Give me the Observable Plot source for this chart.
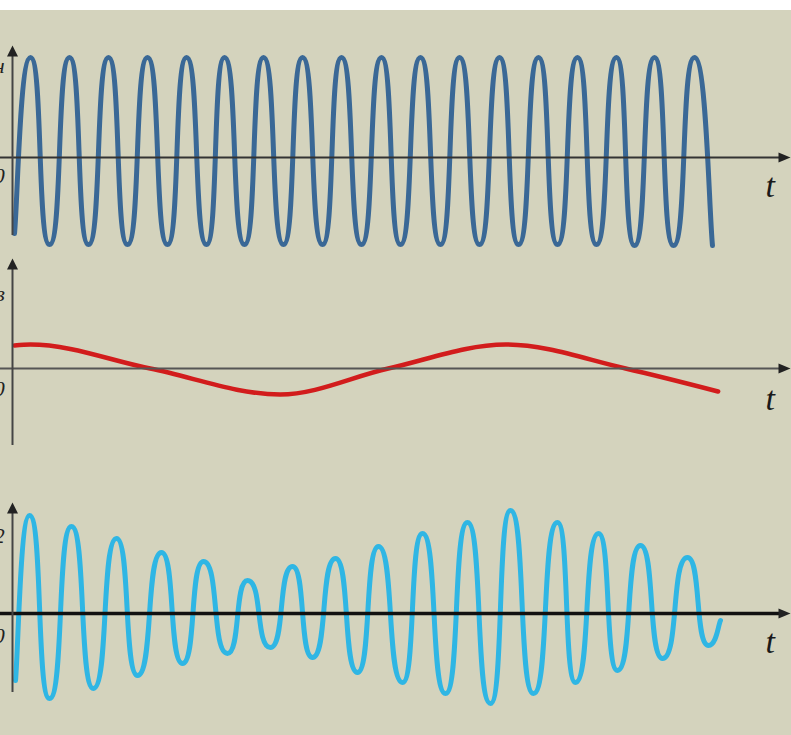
<!DOCTYPE html>
<html>
<head>
<meta charset="utf-8">
<script src="https://cdn.jsdelivr.net/npm/d3@7"></script>
<script src="https://cdn.jsdelivr.net/npm/@observablehq/plot@0.6"></script>
<style>
html, body { margin: 0; padding: 0; background: #ffffff; }
#chart { position: relative; width: 791px; height: 735px; overflow: hidden; background: #d4d3bd; }
#chart .strip { position: absolute; left: 0; top: 0; width: 791px; height: 10px; background: #ffffff; }
#chart svg { position: absolute; left: 0; background: transparent; }
</style>
</head>
<body>
<div id="chart"><div class="strip"></div></div>
<script>
// ---- Data (time t in arbitrary units 0..100, values in relative amplitude) ----
// Carrier (top panel): start, then alternating peaks and troughs
const carrierT = [0.26, 2.31, 4.76, 7.33, 9.77, 12.34, 14.78, 17.35, 19.92, 22.37, 24.94, 27.25, 29.82,
  32.26, 34.83, 37.28, 39.85, 42.29, 44.86, 47.43, 49.87, 52.44, 55.01, 57.46, 60.03, 62.60, 65.04,
  67.61, 70.05, 72.62, 75.06, 77.63, 79.95, 82.52, 84.96, 87.66, 89.97];
const carrierV = [-0.76, 1.00, -0.87, 1.00, -0.87, 1.00, -0.87, 1.00, -0.87, 1.00, -0.87, 1.00, -0.87,
  1.00, -0.87, 1.00, -0.87, 1.00, -0.87, 1.00, -0.87, 1.00, -0.87, 1.00, -0.87, 1.00, -0.87,
  1.00, -0.87, 1.00, -0.87, 1.00, -0.88, 1.00, -0.88, 1.00, -0.88];

// Modulating signal (middle panel)
const modT = [0.26, 2.3, 17.7, 34.4, 48.3, 63.4, 78.8, 90.7];
const modV = [0.23, 0.24, 0.0, -0.26, 0.0, 0.24, 0.0, -0.23];

// Amplitude-modulated signal (bottom panel)
const amT = [0.39, 2.19, 4.76, 7.58, 10.41, 13.37, 16.07, 19.15, 21.85, 24.55, 27.63, 30.21, 33.16,
  35.99, 38.56, 41.52, 44.34, 47.04, 50.13, 52.70, 55.66, 58.48, 61.44, 64.01, 66.97, 70.05, 72.37,
  75.32, 77.76, 80.72, 83.55, 86.76, 89.46, 91.0];
const amV = [-0.67, 0.98, -0.85, 0.87, -0.75, 0.75, -0.62, 0.61, -0.50, 0.52, -0.40, 0.33, -0.34,
  0.47, -0.44, 0.55, -0.59, 0.67, -0.69, 0.80, -0.80, 0.91, -0.90, 1.03, -0.80, 0.91, -0.69,
  0.80, -0.57, 0.68, -0.45, 0.56, -0.32, -0.07];

// Axis extents and labels
const tAxisStart = -1.6, tAxisEnd = 100;
const axisLabel = "t";

// Curve through extrema with flat, rounded tops (horizontal tangents at the peaks/troughs)
const K = 0.66;
function roundedWave(context) {
  let pts = [];
  return {
    areaStart() {}, areaEnd() {},
    lineStart() { pts = []; },
    point(x, y) { pts.push([+x, +y]); },
    lineEnd() {
      const n = pts.length;
      if (!n) return;
      context.moveTo(pts[0][0], pts[0][1]);
      for (let i = 1; i < n; i++) {
        const [x0, y0] = pts[i - 1], [x1, y1] = pts[i];
        const dx = x1 - x0;
        const c1 = i - 1 === 0 ? [x0 + 0.2 * dx, y0 + 0.2 * (y1 - y0)] : [x0 + K * dx, y0];
        const c2 = i === n - 1 ? [x1 - 0.2 * dx, y1 - 0.2 * (y1 - y0)] : [x1 - K * dx, y1];
        context.bezierCurveTo(c1[0], c1[1], c2[0], c2[1], x1, y1);
      }
    }
  };
}

const panels = [
  {T: carrierT, V: carrierV, color: "#3a6896", width: 5, curve: roundedWave,
   vAxis: [-0.78, 1.12], xAxisColor: "#333333", xAxisWidth: 2.2,
   sideLabels: [{text: "н", v: 0.92}, {text: "0", v: -0.18}], tLabelV: -0.29},
  {T: modT, V: modV, color: "#d21c1c", width: 4.5, curve: "monotone-x",
   vAxis: [-0.77, 1.10], xAxisColor: "#555555", xAxisWidth: 2,
   sideLabels: [{text: "в", v: 0.75}, {text: "0", v: -0.20}], tLabelV: -0.31},
  {T: amT, V: amV, color: "#2fb6e4", width: 5, curve: roundedWave,
   vAxis: [-0.79, 1.11], xAxisColor: "#111111", xAxisWidth: 3.5,
   sideLabels: [{text: "2", v: 0.78}, {text: "0", v: -0.22}], tLabelV: -0.29}
];

// Layout (pixels)
const layout = [
  {top: 10, height: 240, zero: 147},
  {top: 250, height: 210, zero: 118},
  {top: 460, height: 275, zero: 153}
];
const pxPerUnit = 100;

// Custom filled arrow-head symbols (tip at origin)
const arrowUp = {draw(ctx) { ctx.moveTo(0, 0); ctx.lineTo(-5.5, 11); ctx.lineTo(5.5, 11); ctx.closePath(); }};
const arrowRight = {draw(ctx) { ctx.moveTo(0, 0); ctx.lineTo(-12, -5); ctx.lineTo(-12, 5); ctx.closePath(); }};

const chart = document.getElementById("chart");
panels.forEach((p, i) => {
  const L = layout[i];
  const data = p.T.map((t, k) => ({t, v: p.V[k]}));
  const svg = Plot.plot({
    width: 791,
    height: L.height,
    marginTop: 0, marginRight: 0, marginBottom: 0, marginLeft: 0,
    x: {domain: [0, 100], range: [12, 790], axis: null},
    y: {domain: [-1, 1], range: [L.zero + pxPerUnit, L.zero - pxPerUnit], axis: null},
    style: {background: "transparent", overflow: "hidden"},
    marks: [
      Plot.line(data, {x: "t", y: "v", curve: p.curve, stroke: p.color, strokeWidth: p.width,
        strokeLinecap: "round", strokeLinejoin: "round"}),
      Plot.ruleY([0], {x1: tAxisStart, x2: tAxisEnd - 1, stroke: p.xAxisColor, strokeWidth: p.xAxisWidth}),
      Plot.ruleX([0], {y1: p.vAxis[0], y2: p.vAxis[1] - 0.05, stroke: "#444444", strokeWidth: 2}),
      Plot.dot([{t: 0, v: p.vAxis[1]}], {x: "t", y: "v", symbol: arrowUp, fill: "#222222", stroke: "none"}),
      Plot.dot([{t: tAxisEnd, v: 0}], {x: "t", y: "v", symbol: arrowRight, fill: "#222222", stroke: "none"}),
      Plot.text([{t: 97.4, v: p.tLabelV}], {x: "t", y: "v", text: () => axisLabel,
        fontFamily: "Liberation Serif", fontStyle: "italic", fontSize: 34, fill: "#1a1a1a"}),
      Plot.text(p.sideLabels, {x: () => -1.0, y: "v", text: "text", textAnchor: "end",
        fontFamily: "Liberation Serif", fontStyle: "italic", fontSize: 22, fill: "#222222"})
    ]
  });
  svg.style.top = L.top + "px";
  chart.appendChild(svg);
});
</script>
</body>
</html>
